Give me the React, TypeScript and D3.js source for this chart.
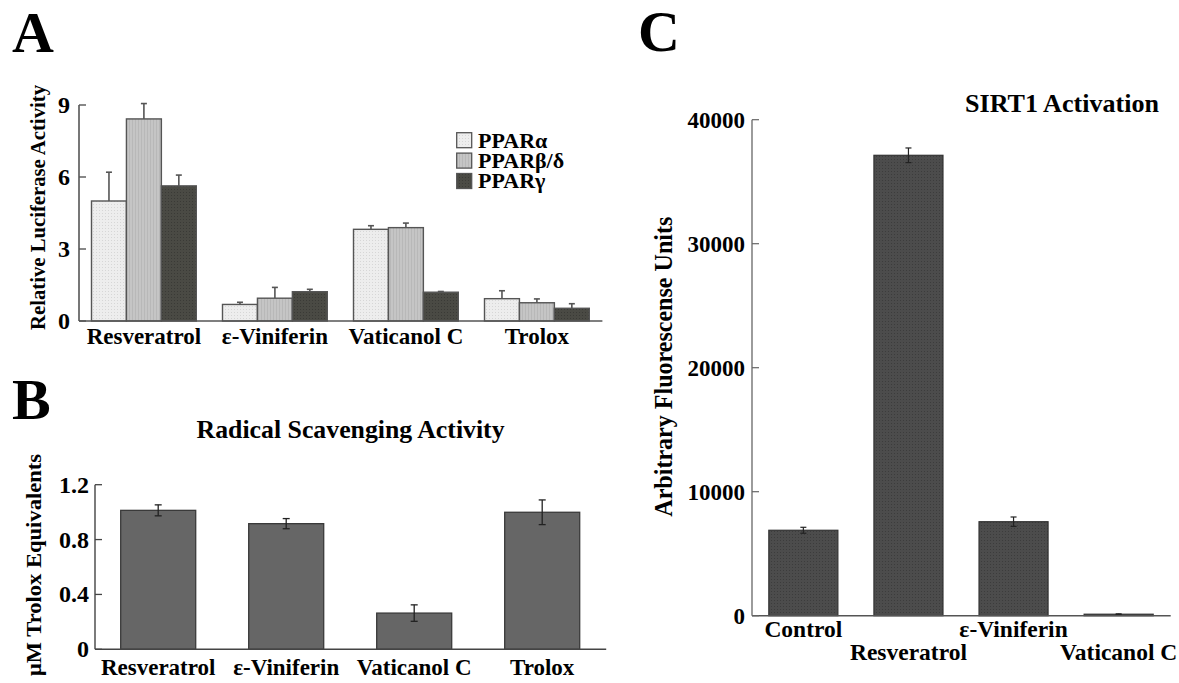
import React from "react";
import * as d3 from "d3";

// ---------- Panel A data ----------
const aCategories = ["Resveratrol", "ε-Viniferin", "Vaticanol C", "Trolox"];
const aSeries = ["PPARα", "PPARβ/δ", "PPARγ"];
const aAlpha = [5.0, 0.69, 3.82, 0.93];
const aAlphaErr = [1.2, 0.09, 0.15, 0.33];
const aBeta = [8.42, 0.95, 3.89, 0.76];
const aBetaErr = [0.64, 0.45, 0.19, 0.16];
const aGamma = [5.63, 1.22, 1.2, 0.53];
const aGammaErr = [0.45, 0.1, 0.03, 0.19];
const aTicks = [0, 3, 6, 9];

// ---------- Panel B data ----------
const bCategories = ["Resveratrol", "ε-Viniferin", "Vaticanol C", "Trolox"];
const bValues = [1.013, 0.916, 0.264, 0.999];
const bErr = [0.04, 0.037, 0.06, 0.09];
const bTicks = [0, 0.4, 0.8, 1.2];

// ---------- Panel C data ----------
const cCategories = ["Control", "Resveratrol", "ε-Viniferin", "Vaticanol C"];
const cValues = [6890, 37130, 7580, 120];
const cErr = [240, 590, 380, 30];
const cTicks = [0, 10000, 20000, 30000, 40000];

const FONT = "'Liberation Serif', 'Times New Roman', serif";
const seriesFill = ["#ededed", "#c5c5c5", "#4a4a44"];

export default function App() {
  // Panel A scales
  const ax0 = d3.scaleBand<string>().domain(aCategories).range([78.4, 602.4]).paddingInner(0.2).paddingOuter(0.1);
  const ax1 = d3.scaleBand<string>().domain(aSeries).range([0, ax0.bandwidth()]);
  const ay = d3.scaleLinear().domain([0, 9]).range([321, 105]);
  const aVals = [aAlpha, aBeta, aGamma];
  const aErrs = [aAlphaErr, aBetaErr, aGammaErr];

  // Panel B scales
  const bx = d3.scaleBand<string>().domain(bCategories).range([94.2, 606.2]).paddingInner(0.414).paddingOuter(0.207);
  const by = d3.scaleLinear().domain([0, 1.2]).range([649.3, 484.7]);

  // Panel C scales
  const cx = d3.scaleBand<string>().domain(cCategories).range([750.8, 1171.2]).paddingInner(0.343).paddingOuter(0.1715);
  const cy = d3.scaleLinear().domain([0, 40000]).range([615.7, 119.7]);

  const bold = { fontFamily: FONT, fontWeight: 700 as const };

  return (
    <svg
      width={1179}
      height={683}
      style={{ position: "absolute", left: 0, top: 0, background: "#fff" }}
    >
      <defs>
        <pattern id="patA" width="3" height="3" patternUnits="userSpaceOnUse">
          <rect width="3" height="3" fill={seriesFill[0]} />
          <rect width="1" height="1" fill="#d6d6d6" />
        </pattern>
        <pattern id="patB" width="3" height="3" patternUnits="userSpaceOnUse">
          <rect width="3" height="3" fill={seriesFill[1]} />
          <rect width="1" height="3" fill="#b8b8b8" />
        </pattern>
        <pattern id="patG" width="3" height="3" patternUnits="userSpaceOnUse">
          <rect width="3" height="3" fill={seriesFill[2]} />
          <rect width="1" height="1" fill="#3a3a36" />
        </pattern>
        <pattern id="patC" width="3" height="3" patternUnits="userSpaceOnUse">
          <rect width="3" height="3" fill="#4c4c4c" />
          <rect width="1" height="1" fill="#3c3c3c" />
        </pattern>
      </defs>

      {/* ================= Panel A ================= */}
      <text x={12} y={52} fontSize={58} {...bold}>A</text>

      {aCategories.map((cat, ci) => (
        <g key={cat}>
          {aSeries.map((s, si) => {
            const x = (ax0(cat) ?? 0) + (ax1(s) ?? 0);
            const v = aVals[si][ci];
            const e = aErrs[si][ci];
            const cxm = x + ax1.bandwidth() / 2;
            return (
              <g key={s}>
                <line x1={cxm} x2={cxm} y1={ay(v)} y2={ay(v + e)} stroke="#555" strokeWidth={1.6} />
                <line x1={cxm - 3} x2={cxm + 3} y1={ay(v + e)} y2={ay(v + e)} stroke="#555" strokeWidth={1.6} />
                <rect
                  x={x}
                  y={ay(v)}
                  width={ax1.bandwidth()}
                  height={ay(0) - ay(v)}
                  fill={`url(#${["patA", "patB", "patG"][si]})`}
                  stroke="#555"
                  strokeWidth={1.4}
                />
              </g>
            );
          })}
          <text
            x={(ax0(cat) ?? 0) + ax0.bandwidth() / 2}
            y={344}
            fontSize={23}
            textAnchor="middle"
            {...bold}
          >
            {cat}
          </text>
        </g>
      ))}
      {/* axes A */}
      <line x1={79} x2={79} y1={ay(9)} y2={ay(0)} stroke="#555" strokeWidth={1.6} />
      <line x1={79} x2={602.4} y1={ay(0)} y2={ay(0)} stroke="#555" strokeWidth={1.6} />
      {aTicks.map((t) => (
        <g key={t}>
          <line x1={79} x2={86} y1={ay(t)} y2={ay(t)} stroke="#555" strokeWidth={1.4} />
          <text x={70} y={ay(t) + 8} fontSize={24} textAnchor="end" {...bold}>
            {t}
          </text>
        </g>
      ))}
      <text
        transform={`translate(45,207.5) rotate(-90)`}
        fontSize={22}
        textAnchor="middle"
        textLength={245}
        lengthAdjust="spacingAndGlyphs"
        {...bold}
      >
        Relative Luciferase Activity
      </text>
      {/* legend A */}
      {aSeries.map((s, i) => (
        <g key={s}>
          <rect
            x={456.7}
            y={132.7 + i * 20.4}
            width={15}
            height={15}
            fill={`url(#${["patA", "patB", "patG"][i]})`}
            stroke="#555"
            strokeWidth={1.3}
          />
          <text x={478} y={147.5 + i * 20.4} fontSize={22} {...bold}>
            {s}
          </text>
        </g>
      ))}

      {/* ================= Panel B ================= */}
      <text x={12} y={419} fontSize={58} {...bold}>B</text>
      <text x={350.6} y={438.3} fontSize={25} textAnchor="middle" textLength={308} lengthAdjust="spacingAndGlyphs" {...bold}>
        Radical Scavenging Activity
      </text>
      {bCategories.map((cat, i) => {
        const x = bx(cat) ?? 0;
        const m = x + bx.bandwidth() / 2;
        const v = bValues[i];
        const e = bErr[i];
        return (
          <g key={cat}>
            <rect x={x} y={by(v)} width={bx.bandwidth()} height={by(0) - by(v)} fill="#666" stroke="#3a3a3a" strokeWidth={1.3} />
            <line x1={m} x2={m} y1={by(v - e)} y2={by(v + e)} stroke="#222" strokeWidth={1.3} />
            <line x1={m - 3.5} x2={m + 3.5} y1={by(v + e)} y2={by(v + e)} stroke="#222" strokeWidth={1.3} />
            <line x1={m - 3.5} x2={m + 3.5} y1={by(v - e)} y2={by(v - e)} stroke="#222" strokeWidth={1.3} />
            <text x={m} y={675} fontSize={23} textAnchor="middle" {...bold}>
              {cat}
            </text>
          </g>
        );
      })}
      <line x1={95} x2={95} y1={by(1.2)} y2={by(0)} stroke="#444" strokeWidth={1.4} />
      <line x1={95} x2={606.2} y1={by(0)} y2={by(0)} stroke="#444" strokeWidth={1.4} />
      {bTicks.map((t) => (
        <g key={t}>
          <line x1={95} x2={102} y1={by(t)} y2={by(t)} stroke="#444" strokeWidth={1.3} />
          <text x={89} y={by(t) + 8} fontSize={24} textAnchor="end" {...bold}>
            {t === 0 ? "0" : t.toFixed(1)}
          </text>
        </g>
      ))}
      <text
        transform={`translate(41,565) rotate(-90)`}
        fontSize={22}
        textAnchor="middle"
        textLength={222}
        lengthAdjust="spacingAndGlyphs"
        {...bold}
      >
        μM Trolox Equivalents
      </text>

      {/* ================= Panel C ================= */}
      <text x={638} y={51} fontSize={58} {...bold}>C</text>
      <text x={1062} y={112.3} fontSize={25.5} textAnchor="middle" textLength={194} lengthAdjust="spacingAndGlyphs" {...bold}>
        SIRT1 Activation
      </text>
      {cCategories.map((cat, i) => {
        const x = cx(cat) ?? 0;
        const m = x + cx.bandwidth() / 2;
        const v = cValues[i];
        const e = cErr[i];
        return (
          <g key={cat}>
            <rect x={x} y={cy(v)} width={cx.bandwidth()} height={cy(0) - cy(v)} fill="url(#patC)" stroke="#333" strokeWidth={1.2} />
            <line x1={m} x2={m} y1={cy(v - e)} y2={cy(v + e)} stroke="#222" strokeWidth={1.2} />
            <line x1={m - 3} x2={m + 3} y1={cy(v + e)} y2={cy(v + e)} stroke="#222" strokeWidth={1.2} />
            <line x1={m - 3} x2={m + 3} y1={cy(v - e)} y2={cy(v - e)} stroke="#222" strokeWidth={1.2} />
            <text x={m} y={i % 2 === 0 ? 636.7 : 660} fontSize={23.5} textAnchor="middle" {...bold}>
              {cat}
            </text>
          </g>
        );
      })}
      <line x1={752} x2={752} y1={cy(40000)} y2={cy(0)} stroke="#666" strokeWidth={1.3} />
      <line x1={752} x2={1170.7} y1={cy(0)} y2={cy(0)} stroke="#555" strokeWidth={1.4} />
      {cTicks.map((t) => (
        <g key={t}>
          <line x1={752} x2={759} y1={cy(t)} y2={cy(t)} stroke="#666" strokeWidth={1.2} />
          <text x={745} y={cy(t) + 8} fontSize={23} textAnchor="end" {...bold}>
            {t}
          </text>
        </g>
      ))}
      <text
        transform={`translate(672,366.7) rotate(-90)`}
        fontSize={26}
        textAnchor="middle"
        textLength={300}
        lengthAdjust="spacingAndGlyphs"
        {...bold}
      >
        Arbitrary Fluorescense Units
      </text>
    </svg>
  );
}
